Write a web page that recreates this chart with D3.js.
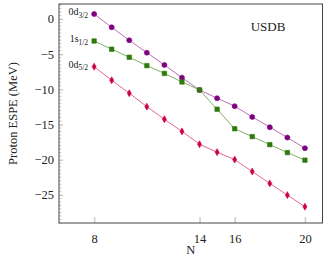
<!DOCTYPE html>
<html>
<head>
<meta charset="utf-8">
<script src="https://cdn.jsdelivr.net/npm/d3@7"></script>
<style>
  body { margin: 0; background: #fff; }
  text { font-family: "Liberation Serif", "DejaVu Serif", serif; fill: #222; }
</style>
</head>
<body>
<svg id="chart"></svg>
<script>
const N = [8, 9, 10, 11, 12, 13, 14, 15, 16, 17, 18, 19, 20];
const d32 = [0.71, -1.18, -3.03, -4.79, -6.53, -8.34, -10.09, -11.26, -12.39, -13.92, -15.38, -16.86, -18.37];
const s12 = [-3.13, -4.3, -5.44, -6.63, -7.74, -8.95, -10.09, -12.83, -15.6, -16.72, -17.86, -18.99, -20.07];
const d52 = [-6.78, -8.71, -10.55, -12.46, -14.25, -15.98, -17.8, -18.93, -19.99, -21.69, -23.37, -25.04, -26.68];
const xTicks = [8, 14, 16, 20];
const yTicks = [0, -5, -10, -15, -20, -25];

const width = 327,
  height = 263;
const margin = { top: 4, right: 4.5, bottom: 40, left: 59 };

const svg = d3.select("#chart").attr("width", width).attr("height", height);

const x = d3
  .scaleLinear()
  .domain([6, 21])
  .range([margin.left, width - margin.right]);

const y = d3
  .scaleLinear()
  .domain([-29, 2.13])
  .range([height - margin.bottom, margin.top]);

// minor ticks on y
const minor = d3.range(-29, 2.1, 0.5).filter((v) => v % 5 !== 0);
svg
  .append("g")
  .selectAll("line")
  .data(minor)
  .enter()
  .append("line")
  .attr("x1", margin.left)
  .attr("x2", margin.left + 2.5)
  .attr("y1", (d) => y(d))
  .attr("y2", (d) => y(d))
  .attr("stroke", "#bbb")
  .attr("stroke-width", 0.8);

// Y axis
const yAxis = svg
  .append("g")
  .attr("transform", `translate(${margin.left},0)`)
  .call(
    d3
      .axisRight(y)
      .tickValues(yTicks)
      .tickSize(4)
      .tickFormat((d) => (d < 0 ? "\u2212" + Math.abs(d) : d))
  );
yAxis.select(".domain").remove();
yAxis.selectAll(".tick line").attr("stroke", "#bbb").attr("stroke-width", 1.2);
yAxis
  .selectAll(".tick text")
  .attr("x", -5)
  .attr("text-anchor", "end")
  .attr("font-size", 12.5)
  .attr("font-family", "Liberation Serif");

// X axis
const xAxis = svg
  .append("g")
  .attr("transform", `translate(0,${height - margin.bottom})`)
  .call(d3.axisTop(x).tickValues(xTicks).tickSize(6));
xAxis.select(".domain").remove();
xAxis.selectAll(".tick line").attr("stroke", "#ccc").attr("stroke-width", 1.5);
xAxis
  .selectAll(".tick text")
  .attr("y", 16)
  .attr("dy", "0.35em")
  .attr("font-size", 12.5)
  .attr("font-family", "Liberation Serif");

// frame
svg
  .append("rect")
  .attr("x", margin.left)
  .attr("y", margin.top)
  .attr("width", width - margin.left - margin.right)
  .attr("height", height - margin.top - margin.bottom)
  .attr("fill", "none")
  .attr("stroke", "#444")
  .attr("stroke-width", 1);

const series = [
  { name: "0d", sub: "3/2", values: d32, line: "#a64ca6", mark: "#800080", sym: d3.symbolCircle, size: 20 },
  { name: "1s", sub: "1/2", values: s12, line: "#5f9e3c", mark: "#2e7a0c", sym: d3.symbolSquare, size: 20 },
  { name: "0d", sub: "5/2", values: d52, line: "#e0407a", mark: "#cc0044", sym: d3.symbolDiamond, size: 14 }
];

const line = d3
  .line()
  .x((d, i) => x(N[i]))
  .y((d) => y(d));

series.forEach((s) => {
  svg
    .append("path")
    .datum(s.values)
    .attr("d", line)
    .attr("fill", "none")
    .attr("stroke", s.line)
    .attr("stroke-width", 0.8);

  svg
    .append("g")
    .selectAll("path")
    .data(s.values)
    .enter()
    .append("path")
    .attr("transform", (d, i) => `translate(${x(N[i])},${y(d)})`)
    .attr("d", d3.symbol().type(s.sym).size(s.size))
    .attr("fill", s.mark)
    .attr("stroke", s.mark)
    .attr("stroke-width", 0.6);

  const lab = svg
    .append("text")
    .attr("x", x(N[0]) - 6)
    .attr("y", y(s.values[0]))
    .attr("dy", "0.1em")
    .attr("text-anchor", "end")
    .attr("font-size", 10);
  lab.append("tspan").text(s.name);
  lab.append("tspan").attr("font-size", 7.5).attr("dy", "0.35em").text(s.sub);
});

svg
  .append("text")
  .attr("x", 268)
  .attr("y", 26)
  .attr("dy", "0.35em")
  .attr("text-anchor", "middle")
  .attr("font-size", 13)
  .text("USDB");

// Labels
svg
  .append("text")
  .attr("x", x(13.5))
  .attr("y", 250)
  .attr("dy", "0.35em")
  .attr("text-anchor", "middle")
  .attr("font-size", 12.5)
  .text("N");

svg
  .append("text")
  .attr("transform", "rotate(-90)")
  .attr("x", -(margin.top + (height - margin.bottom)) / 2)
  .attr("y", 13)
  .attr("dy", "0.35em")
  .attr("text-anchor", "middle")
  .attr("font-size", 12.5)
  .text("Proton ESPE (MeV)");
</script>
</body>
</html>
